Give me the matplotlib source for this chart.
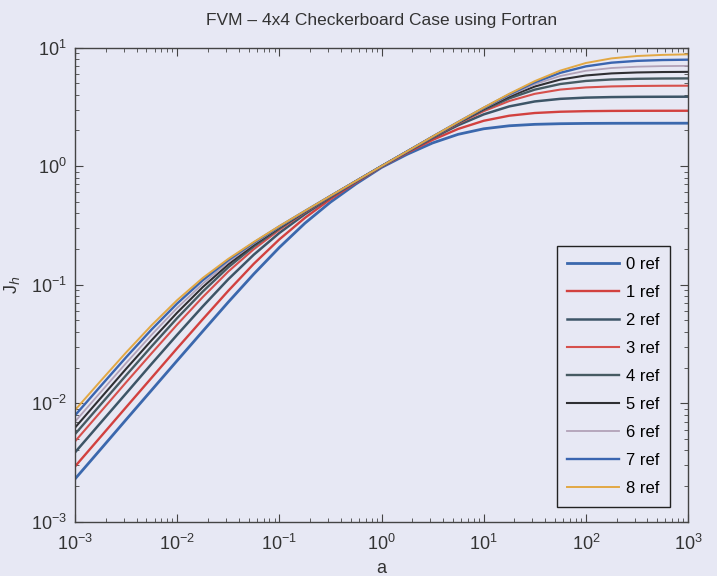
import numpy as np
import matplotlib
matplotlib.use("Agg")
import matplotlib.pyplot as plt

# a values (quarter decades from 1e-3 to 1e3)
a_vals = [1e-3, 1.78e-3, 3.16e-3, 5.62e-3,
          1e-2, 1.78e-2, 3.16e-2, 5.62e-2,
          1e-1, 1.78e-1, 3.16e-1, 5.62e-1,
          1.0, 1.78, 3.16, 5.62,
          10.0, 17.8, 31.6, 56.2,
          100.0, 178.0, 316.0, 562.0, 1000.0]

# J_h for each refinement level
j_ref0 = [0.00230, 0.00409, 0.00727, 0.0129, 0.0229, 0.0405, 0.0712,
          0.123, 0.206, 0.330, 0.496, 0.707, 0.974, 1.257, 1.567, 1.853,
          2.064, 2.188, 2.250, 2.278, 2.291, 2.296, 2.298, 2.299, 2.300]
j_ref1 = [0.00293, 0.00521, 0.00925, 0.0164, 0.0291, 0.0511, 0.0887,
          0.150, 0.241, 0.366, 0.526, 0.728, 0.987, 1.294, 1.663, 2.058,
          2.411, 2.661, 2.804, 2.874, 2.906, 2.920, 2.926, 2.928, 2.929]
j_ref2 = [0.00385, 0.00684, 0.0121, 0.0215, 0.0378, 0.0656, 0.111,
          0.179, 0.273, 0.393, 0.545, 0.740, 0.994, 1.316, 1.724, 2.211,
          2.730, 3.188, 3.509, 3.691, 3.780, 3.820, 3.837, 3.844, 3.848]
j_ref3 = [0.00477, 0.00846, 0.0150, 0.0264, 0.0461, 0.0786, 0.129,
          0.199, 0.290, 0.406, 0.553, 0.745, 0.997, 1.324, 1.749, 2.281,
          2.904, 3.539, 4.069, 4.419, 4.608, 4.699, 4.739, 4.758, 4.765]
j_ref4 = [0.00549, 0.00974, 0.0172, 0.0302, 0.0523, 0.0875, 0.140,
          0.210, 0.298, 0.411, 0.556, 0.746, 0.998, 1.327, 1.759, 2.311,
          2.984, 3.725, 4.414, 4.923, 5.225, 5.377, 5.447, 5.478, 5.491]
j_ref5 = [0.00623, 0.01104, 0.0195, 0.0340, 0.0581, 0.0954, 0.148,
          0.217, 0.304, 0.414, 0.558, 0.747, 0.999, 1.329, 1.765, 2.330,
          3.036, 3.856, 4.686, 5.368, 5.811, 6.049, 6.162, 6.212, 6.233]
j_ref6 = [0.00700, 0.01239, 0.0218, 0.0378, 0.0637, 0.102, 0.155,
          0.222, 0.307, 0.416, 0.559, 0.748, 0.999, 1.331, 1.769, 2.342,
          3.072, 3.950, 4.900, 5.754, 6.365, 6.717, 6.891, 6.970, 7.003]
j_ref7 = [0.00790, 0.01394, 0.0244, 0.0419, 0.0694, 0.109, 0.161,
          0.226, 0.310, 0.418, 0.560, 0.748, 1.000, 1.331, 1.772, 2.351,
          3.098, 4.024, 5.081, 6.117, 6.936, 7.449, 7.717, 7.843, 7.898]
j_ref8 = [0.00876, 0.01541, 0.0268, 0.0455, 0.0741, 0.114, 0.165,
          0.229, 0.312, 0.419, 0.561, 0.749, 1.000, 1.332, 1.774, 2.356,
          3.115, 4.073, 5.206, 6.390, 7.405, 8.097, 8.480, 8.666, 8.760]

labels = ['0 ref', '1 ref', '2 ref', '3 ref', '4 ref',
          '5 ref', '6 ref', '7 ref', '8 ref']

bg = '#e7e8f4'

plt.rcParams['font.family'] = ['Liberation Sans', 'DejaVu Sans']

fig = plt.figure(figsize=(7.17, 5.76), dpi=100, facecolor=bg)
ax = fig.add_axes([0.1046, 0.094, 0.855, 0.8235], facecolor=bg)

series = [j_ref0, j_ref1, j_ref2, j_ref3, j_ref4,
          j_ref5, j_ref6, j_ref7, j_ref8]
styles = [
    dict(color='#3b68ad', lw=2.0),
    dict(color='#d2413f', lw=1.7),
    dict(color='#3d5567', lw=1.8),
    dict(color='#d6504c', lw=1.5),
    dict(color='#465a62', lw=1.7),
    dict(color='#2f2f33', lw=1.5),
    dict(color='#b2a2b8', lw=1.3),
    dict(color='#3a65b0', lw=1.7),
    dict(color='#e2a844', lw=1.4),
]

for y, lab, st in zip(series, labels, styles):
    ax.plot(a_vals, y, label=lab, **st)

ax.set_xscale('log')
ax.set_yscale('log')
ax.set_xlim(1e-3, 1e3)
ax.set_ylim(1e-3, 1e1)

ax.set_title('FVM \u2013 4x4 Checkerboard Case using Fortran', fontsize=12.5,
             color='#333333', pad=16)
ax.set_xlabel('a', fontsize=13, color='#333333', labelpad=4)
ax.set_ylabel('J$_h$', fontsize=13, color='#333333', labelpad=6)

ax.tick_params(which='both', direction='in', top=True, right=True,
               colors='#444444', labelsize=13, labelcolor='#333333')
ax.tick_params(which='major', length=6)
ax.tick_params(which='minor', length=3)
ax.tick_params(axis='x', which='major', pad=9)
ax.tick_params(axis='y', which='major', pad=6)
for s in ax.spines.values():
    s.set_color('#444444')
    s.set_linewidth(1.0)

leg = ax.legend(loc='lower right', bbox_to_anchor=(0.9706, 0.0316),
                fontsize=12, frameon=True, fancybox=False,
                handlelength=3.1, labelspacing=0.78, borderpad=0.65,
                handletextpad=0.4, borderaxespad=0.0)
leg.get_frame().set_edgecolor('#222222')
leg.get_frame().set_facecolor(bg)
leg.get_frame().set_alpha(1.0)
leg.get_frame().set_linewidth(1.0)

fig.savefig('out.png', dpi=100, facecolor=bg)
